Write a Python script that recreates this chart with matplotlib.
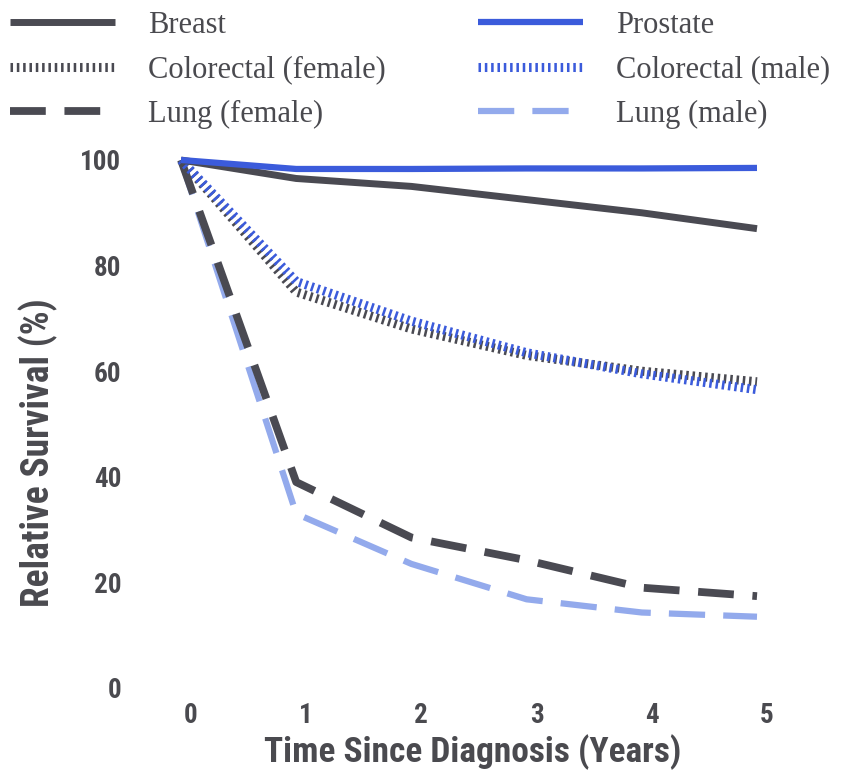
import matplotlib
matplotlib.use("Agg")
import matplotlib.pyplot as plt
from matplotlib import font_manager
from matplotlib.transforms import ScaledTranslation

# Data
years = [0, 1, 2, 3, 4, 5]
breast = [100, 96.5, 95, 92.5, 90, 87]
prostate = [100, 98.3, 98.3, 98.4, 98.4, 98.5]
colorectal_f = [100, 75, 68, 63, 60, 58]
colorectal_m = [100, 77, 69.5, 63.5, 59.5, 56.5]
lung_f = [100, 39, 28.5, 24.2, 19, 17.4]
lung_m = [100, 33, 23.5, 16.8, 14.3, 13.5]

yticks = [0, 20, 40, 60, 80, 100]

# Colours
gray = "#4a4a52"
blue = "#3b5bdb"
lightblue = "#93aaec"
textgray = "#4a4a4f"

# condensed bold sans for axis text, whatever is installed
names = {f.name for f in font_manager.fontManager.ttflist}
cond = "DejaVu Sans"
for n in ["Liberation Sans Narrow", "Roboto Condensed", "DejaVu Sans Condensed"]:
    if n in names:
        cond = n
        break
serif = "Liberation Serif"

fig = plt.figure(figsize=(8.47, 7.76), dpi=100)
ax = fig.add_axes([181 / 847, 88 / 776, 576 / 847, 528 / 776])

l_lm, = ax.plot(years, lung_m, color=lightblue, lw=4.5, dashes=(5.8, 2.9),
                dash_capstyle="butt", clip_on=False, zorder=1)
l_lf, = ax.plot(years, lung_f, color=gray, lw=5.6, dashes=(4.6, 2.4),
                dash_capstyle="butt", clip_on=False, zorder=2)
l_cf, = ax.plot(years, colorectal_f, color=gray, lw=6.5, dashes=(0.28, 0.42),
                dash_capstyle="butt", clip_on=False, zorder=3)
l_cm, = ax.plot(years, colorectal_m, color=blue, lw=6.5, dashes=(0.28, 0.42),
                dash_capstyle="butt", clip_on=False, zorder=4)
l_br, = ax.plot(years, breast, color=gray, lw=5, solid_capstyle="butt",
                clip_on=False, zorder=5)
l_pr, = ax.plot(years, prostate, color=blue, lw=4.5, solid_capstyle="butt",
                clip_on=False, zorder=6)

ax.set_xlim(0, 5)
ax.set_ylim(0, 100)
ax.set_xticks(years)
ax.set_yticks(yticks)
for s in ax.spines.values():
    s.set_visible(False)
ax.tick_params(length=0, colors=textgray)
ax.tick_params(axis="y", pad=43)
ax.tick_params(axis="x", pad=10)
for lab in ax.get_xticklabels() + ax.get_yticklabels():
    lab.set_fontfamily(cond)
    lab.set_fontweight("bold")
    lab.set_fontsize(19.5)
    lab.set_color(textgray)
for lab in ax.get_xticklabels():
    lab.set_transform(lab.get_transform() + ScaledTranslation(0.1, 0, fig.dpi_scale_trans))

ax.set_xlabel("Time Since Diagnosis (Years)", fontfamily=cond, fontweight="bold",
              fontsize=25.5, color=textgray)
ax.set_ylabel("Relative Survival (%)", fontfamily=cond, fontweight="bold",
              fontsize=27, color=textgray)
ax.xaxis.set_label_coords(0.507, -0.0875)
ax.yaxis.set_label_coords(-0.2135, 0.445)

# legend, two columns placed separately
kw = dict(loc="upper left", frameon=False, borderpad=0, borderaxespad=0,
          handlelength=3.43, handletextpad=1.08, labelspacing=0.5,
          prop={"family": serif, "size": 22})
leg1 = fig.legend([l_br, l_cf, l_lf], ["Breast", "Colorectal (female)", "Lung (female)"],
                  bbox_to_anchor=(10 / 847, 1 - 11 / 776), **kw)
leg2 = fig.legend([l_pr, l_cm, l_lm], ["Prostate", "Colorectal (male)", "Lung (male)"],
                  bbox_to_anchor=(478 / 847, 1 - 11 / 776), **kw)
for leg in (leg1, leg2):
    for t in leg.get_texts():
        t.set_color(textgray)

fig.savefig("out.png", dpi=100)
